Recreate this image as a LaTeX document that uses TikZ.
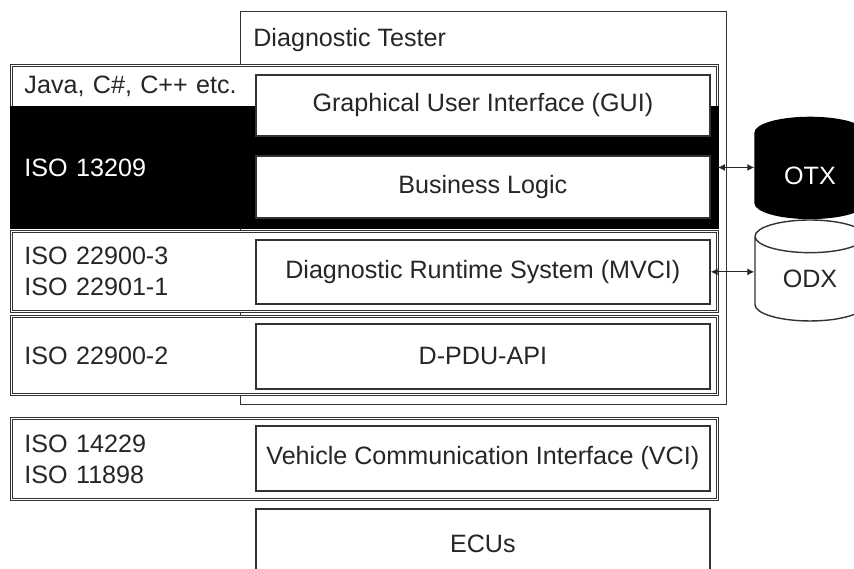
\documentclass[tikz,border=0pt]{standalone}
\usepackage{fontspec}
\setmainfont{Liberation Sans}
\usetikzlibrary{shapes.geometric,arrows.meta}

\tikzset{
  layer/.style={draw=black!80, double=white, double distance=0.9pt, line width=0.55pt,
    fill=white, anchor=north west, minimum width=14.12cm, inner xsep=0.24cm,
    text width=13.6cm, align=left, text=black!85},
  block/.style={draw=black!80, line width=1pt, fill=white, anchor=north west,
    minimum width=9.08cm, align=center, text=black!85},
  db/.style={cylinder, shape border rotate=90, aspect=0.6, draw=black!80,
    line width=0.8pt, minimum width=2.2cm, minimum height=2.02cm, inner sep=0pt,
    fill=white, text=black!85},
  link/.style={<->, >={Latex[length=4pt,width=4pt]}, line width=0.7pt, draw=black!85}
}

\begin{document}
\begin{tikzpicture}[x=0.02cm, y=-0.02cm, font=\fontsize{14.3}{17.5}\selectfont]
\useasboundingbox (0,0) rectangle (854,568);
\clip (0,0) rectangle (854,568);
\node[draw=black!80, line width=0.8pt, anchor=north west, minimum width=9.72cm, minimum height=7.86cm] (tester) at (240,11) {};
\node[anchor=west, text=black!85, inner sep=0pt] (title) at (253,40) {Diagnostic Tester};
\node[layer, minimum height=0.84cm] (lang) at (11,65) {Java, C\#, C++ etc.};
\node[layer, minimum height=2.40cm, fill=black, draw=black, double=black, text=white] (core) at (11,107) {ISO 13209};
\node[layer, minimum height=1.60cm] (mvci) at (11,231) {ISO 22900-3\\ISO 22901-1};
\node[layer, minimum height=1.56cm] (pdu) at (11,316) {ISO 22900-2};
\node[layer, minimum height=1.62cm] (vcirow) at (11,418) {ISO 14229\\ISO 11898};
\node[block, minimum height=1.22cm] (gui) at (255,74) {Graphical User Interface (GUI)};
\node[block, minimum height=1.24cm] (logic) at (255,155) {Business Logic};
\node[block, minimum height=1.28cm] (drs) at (255,239) {Diagnostic Runtime System (MVCI)};
\node[block, minimum height=1.30cm] (dpdu) at (255,323) {D-PDU-API};
\node[block, minimum height=1.30cm] (vci) at (255,425) {Vehicle Communication Interface (VCI)};
\node[block, minimum height=1.38cm] (ecus) at (255,508) {ECUs};
\node[db, fill=black, draw=black, text=white] (otx) at (810,176) {OTX};
\node[db] (odx) at (810,279) {ODX};
\draw[link] (core.east) -- (core.east -| otx.west);
\draw[link] (drs.east) -- (drs.east -| odx.west);
\end{tikzpicture}
\end{document}
